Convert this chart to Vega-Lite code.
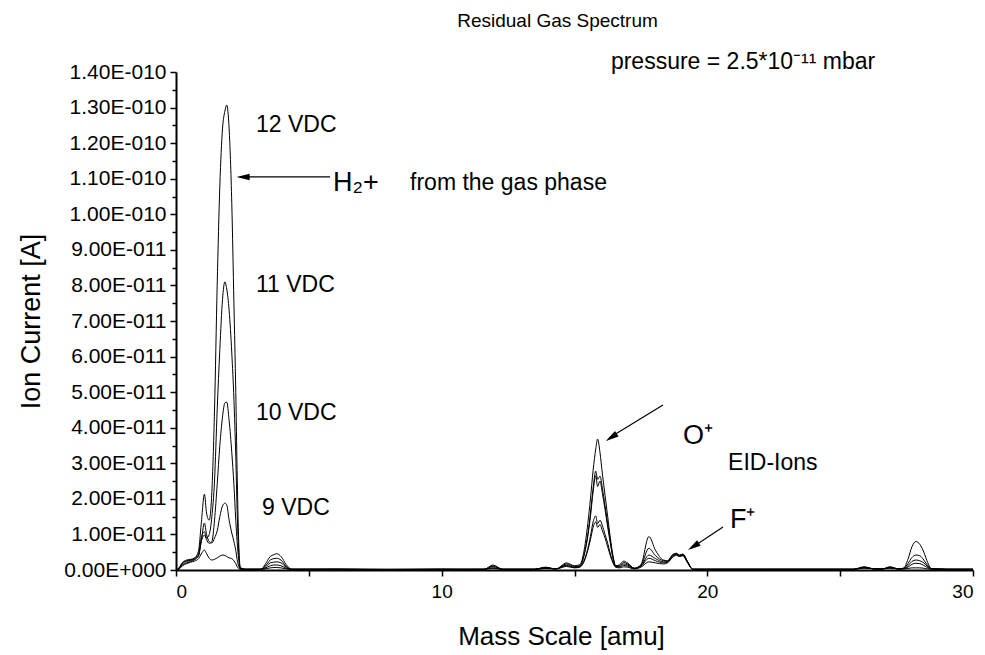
{
  "$schema": "https://vega.github.io/schema/vega-lite/v6.json",
  "autosize": {"type": "none"},
  "padding": {"left": 176, "top": 72, "right": 12, "bottom": 85},
  "width": 797,
  "height": 498,
  "background": "white",
  "config": {
    "font": "Liberation Sans",
    "view": {"stroke": null},
    "axis": {"grid": false, "domainColor": "black", "domainWidth": 2, "tickColor": "black", "tickWidth": 1.5, "labelColor": "black", "titleColor": "black", "labelFont": "Liberation Sans", "titleFont": "Liberation Sans", "titleFontWeight": "normal", "labelOverlap": false}
  },
  "title": {"text": "Residual Gas Spectrum", "fontSize": 19, "fontWeight": "normal", "font": "Liberation Sans", "color": "black", "anchor": "middle", "dx": -17, "offset": 20},
  "encoding": {
    "x": {"field": "m", "type": "quantitative", "scale": {"domain": [0, 30], "nice": false, "zero": false},
      "axis": {"title": "Mass Scale [amu]", "titleFontSize": 26, "titlePadding": 22, "titleX": 385, "labelFontSize": 19, "labelPadding": 6, "tickSize": 6,
        "values": [0, 5, 10, 15, 20, 25, 30], "labelExpr": "datum.value % 10 == 0 ? datum.label : ''", "labelOverlap": false}},
    "y": {"field": "c", "type": "quantitative", "scale": {"domain": [0, 140], "nice": false},
      "axis": {"title": "Ion Current [A]", "titleFontSize": 27, "titlePadding": 18, "labelFontSize": 21, "labelPadding": 4,
        "tickSize": {"condition": {"test": "datum.value % 10 != 0", "value": 4}, "value": 6},
        "values": [0,5,10,15,20,25,30,35,40,45,50,55,60,65,70,75,80,85,90,95,100,105,110,115,120,125,130,135,140],
        "labelOverlap": false,
        "labelExpr": "datum.value % 10 != 0 ? '' : (datum.value == 0 ? '0.00E+000' : (datum.value >= 100 ? format(datum.value / 100, '.2f') + 'E-010' : format(datum.value / 10, '.2f') + 'E-011'))"}}
  },
  "layer": [
    {
      "data": {"values": [
        {"m":0,"v12":0,"v11":0,"v10":0,"v9":0,"v8":0},
        {"m":0.1,"v12":0.5,"v11":0.4,"v10":0.3,"v9":0.3,"v8":0.2},
        {"m":0.25,"v12":2.2,"v11":2.0,"v10":1.8,"v9":1.5,"v8":1.2},
        {"m":0.4,"v12":2.8,"v11":2.6,"v10":2.4,"v9":2.0,"v8":1.8},
        {"m":0.55,"v12":3.0,"v11":2.8,"v10":2.7,"v9":2.4,"v8":2.2},
        {"m":0.7,"v12":3.4,"v11":3.3,"v10":3.0,"v9":2.9,"v8":2.5},
        {"m":0.85,"v12":5.5,"v11":4.5,"v10":4.2,"v9":4.0,"v8":3.2},
        {"m":0.95,"v12":13,"v11":9,"v10":8,"v9":8,"v8":4.5},
        {"m":1.07,"v12":21.3,"v11":10.8,"v10":9.8,"v9":13.2,"v8":5.6},
        {"m":1.15,"v12":16,"v11":9,"v10":8.5,"v9":10,"v8":4.6},
        {"m":1.25,"v12":14,"v11":10,"v10":7.5,"v9":8,"v8":3.3},
        {"m":1.35,"v12":22,"v11":15,"v10":8,"v9":7.6,"v8":2.8},
        {"m":1.45,"v12":45,"v11":25,"v10":14,"v9":9,"v8":3.0},
        {"m":1.55,"v12":80,"v11":45,"v10":24,"v9":11,"v8":3.4},
        {"m":1.65,"v12":108,"v11":62,"v10":35,"v9":15,"v8":3.9},
        {"m":1.75,"v12":124,"v11":76,"v10":43,"v9":18,"v8":4.2},
        {"m":1.84,"v12":129,"v11":81,"v10":47,"v9":18.8,"v8":4.1},
        {"m":1.91,"v12":130.7,"v11":79,"v10":47.2,"v9":18.3,"v8":3.8},
        {"m":2.0,"v12":124,"v11":73,"v10":42,"v9":14,"v8":3.4},
        {"m":2.1,"v12":103,"v11":61,"v10":33,"v9":10.4,"v8":3.2},
        {"m":2.18,"v12":75,"v11":48,"v10":24,"v9":8,"v8":2.6},
        {"m":2.25,"v12":50,"v11":32,"v10":14,"v9":5.5,"v8":1.8},
        {"m":2.3,"v12":28,"v11":17,"v10":8,"v9":3,"v8":1.0},
        {"m":2.36,"v12":8,"v11":5,"v10":3,"v9":1,"v8":0.4},
        {"m":2.42,"v12":0.8,"v11":0.5,"v10":0.4,"v9":0.3,"v8":0.2},
        {"m":2.6,"v12":0.2,"v11":0.2,"v10":0.2,"v9":0.2,"v8":0.2},
        {"m":3.2,"v12":0.2,"v11":0.2,"v10":0.2,"v9":0.2,"v8":0.2},
        {"m":3.35,"v12":1.5,"v11":1.0,"v10":0.7,"v9":0.5,"v8":0.3},
        {"m":3.55,"v12":3.8,"v11":2.8,"v10":2.0,"v9":1.2,"v8":0.6},
        {"m":3.68,"v12":4.3,"v11":3.2,"v10":2.2,"v9":1.4,"v8":0.7},
        {"m":3.79,"v12":4.6,"v11":3.3,"v10":2.3,"v9":1.4,"v8":0.7},
        {"m":3.95,"v12":3.8,"v11":2.8,"v10":2.0,"v9":1.2,"v8":0.6},
        {"m":4.15,"v12":1.5,"v11":1.0,"v10":0.8,"v9":0.5,"v8":0.3},
        {"m":4.35,"v12":0.2,"v11":0.2,"v10":0.2,"v9":0.2,"v8":0.2},
        {"m":6,"v12":0.3,"v11":0.2,"v10":0.2,"v9":0.2,"v8":0.1},
        {"m":8,"v12":0.2,"v11":0.2,"v10":0.1,"v9":0.1,"v8":0.1},
        {"m":10,"v12":0.3,"v11":0.2,"v10":0.2,"v9":0.1,"v8":0.1},
        {"m":11.6,"v12":0.2,"v11":0.2,"v10":0.2,"v9":0.2,"v8":0.2},
        {"m":11.93,"v12":1.4,"v11":1.1,"v10":0.9,"v9":0.6,"v8":0.4},
        {"m":12.3,"v12":0.2,"v11":0.2,"v10":0.2,"v9":0.2,"v8":0.2},
        {"m":13.5,"v12":0.2,"v11":0.2,"v10":0.2,"v9":0.2,"v8":0.2},
        {"m":13.9,"v12":0.8,"v11":0.7,"v10":0.6,"v9":0.5,"v8":0.4},
        {"m":14.3,"v12":0.3,"v11":0.3,"v10":0.3,"v9":0.3,"v8":0.3},
        {"m":14.7,"v12":2.0,"v11":1.7,"v10":1.4,"v9":1.2,"v8":1.0},
        {"m":15.0,"v12":1.2,"v11":1.0,"v10":0.8,"v9":0.7,"v8":0.6},
        {"m":15.2,"v12":1.5,"v11":1.2,"v10":1.0,"v9":0.9,"v8":0.8},
        {"m":15.35,"v12":5,"v11":4,"v10":3.8,"v9":2.5,"v8":2.2},
        {"m":15.5,"v12":13,"v11":10,"v10":9.5,"v9":6,"v8":5.5},
        {"m":15.6,"v12":20,"v11":16,"v10":15,"v9":9.5,"v8":8.5},
        {"m":15.7,"v12":28,"v11":23,"v10":22,"v9":13.5,"v8":12},
        {"m":15.8,"v12":34,"v11":27.8,"v10":26.5,"v9":15.2,"v8":13.5},
        {"m":15.87,"v12":36.8,"v11":25.5,"v10":23.5,"v9":13,"v8":12},
        {"m":15.96,"v12":33,"v11":26.4,"v10":25,"v9":14,"v8":12.8},
        {"m":16.05,"v12":27,"v11":23,"v10":21.5,"v9":12.5,"v8":11},
        {"m":16.15,"v12":21,"v11":18,"v10":17,"v9":10,"v8":9},
        {"m":16.25,"v12":15,"v11":13,"v10":12,"v9":7.5,"v8":6.5},
        {"m":16.35,"v12":9,"v11":8,"v10":7.5,"v9":4.5,"v8":4},
        {"m":16.45,"v12":4,"v11":3.5,"v10":3.2,"v9":2.2,"v8":2},
        {"m":16.55,"v12":1.2,"v11":1.1,"v10":1.0,"v9":0.9,"v8":0.8},
        {"m":16.7,"v12":1.5,"v11":1.2,"v10":1.0,"v9":0.8,"v8":0.6},
        {"m":16.85,"v12":2.5,"v11":2.1,"v10":1.7,"v9":1.3,"v8":0.9},
        {"m":17.0,"v12":2.0,"v11":1.7,"v10":1.4,"v9":1.1,"v8":0.8},
        {"m":17.25,"v12":0.5,"v11":0.5,"v10":0.4,"v9":0.4,"v8":0.3},
        {"m":17.5,"v12":1.5,"v11":1.3,"v10":1.1,"v9":1.0,"v8":0.8},
        {"m":17.8,"v12":9.4,"v11":6.1,"v10":4.2,"v9":3.3,"v8":2.3},
        {"m":18.05,"v12":5.5,"v11":4.0,"v10":3.2,"v9":2.6,"v8":2.0},
        {"m":18.35,"v12":2.8,"v11":2.6,"v10":2.3,"v9":2.0,"v8":1.7},
        {"m":18.5,"v12":2.6,"v11":2.5,"v10":2.3,"v9":2.2,"v8":2.0},
        {"m":18.7,"v12":4.4,"v11":4.2,"v10":4.0,"v9":3.8,"v8":3.6},
        {"m":18.84,"v12":4.7,"v11":4.6,"v10":4.4,"v9":4.3,"v8":4.1},
        {"m":18.95,"v12":4.2,"v11":4.1,"v10":4.0,"v9":3.9,"v8":3.8},
        {"m":19.08,"v12":4.5,"v11":4.4,"v10":4.3,"v9":4.1,"v8":4.0},
        {"m":19.25,"v12":2.5,"v11":2.4,"v10":2.3,"v9":2.2,"v8":2.1},
        {"m":19.45,"v12":0.2,"v11":0.2,"v10":0.2,"v9":0.2,"v8":0.2},
        {"m":22,"v12":0.2,"v11":0.2,"v10":0.2,"v9":0.2,"v8":0.2},
        {"m":25.5,"v12":0.2,"v11":0.2,"v10":0.2,"v9":0.2,"v8":0.2},
        {"m":25.9,"v12":0.9,"v11":0.8,"v10":0.7,"v9":0.6,"v8":0.5},
        {"m":26.3,"v12":0.3,"v11":0.3,"v10":0.3,"v9":0.3,"v8":0.3},
        {"m":26.6,"v12":0.3,"v11":0.3,"v10":0.3,"v9":0.3,"v8":0.3},
        {"m":26.87,"v12":0.9,"v11":0.8,"v10":0.7,"v9":0.6,"v8":0.5},
        {"m":27.2,"v12":0.3,"v11":0.3,"v10":0.3,"v9":0.3,"v8":0.3},
        {"m":27.4,"v12":0.6,"v11":0.5,"v10":0.4,"v9":0.4,"v8":0.3},
        {"m":27.55,"v12":3.0,"v11":1.8,"v10":1.2,"v9":0.8,"v8":0.4},
        {"m":27.7,"v12":6.5,"v11":3.5,"v10":2.4,"v9":1.6,"v8":0.6},
        {"m":27.85,"v12":8.0,"v11":4.2,"v10":2.8,"v9":1.9,"v8":0.6},
        {"m":28.0,"v12":7.2,"v11":4.0,"v10":2.6,"v9":1.8,"v8":0.6},
        {"m":28.15,"v12":5.0,"v11":2.8,"v10":2.0,"v9":1.3,"v8":0.5},
        {"m":28.3,"v12":2.0,"v11":1.2,"v10":0.9,"v9":0.6,"v8":0.3},
        {"m":28.44,"v12":0.3,"v11":0.3,"v10":0.3,"v9":0.3,"v8":0.3},
        {"m":29.0,"v12":0.2,"v11":0.2,"v10":0.2,"v9":0.2,"v8":0.2},
        {"m":30.0,"v12":0.2,"v11":0.2,"v10":0.2,"v9":0.2,"v8":0.2}
      ]},
      "transform": [{"fold": ["v12", "v11", "v10", "v9", "v8"], "as": ["series", "c"]}],
      "mark": {"type": "line", "color": "black", "strokeWidth": 1, "interpolate": "monotone"},
      "encoding": {"detail": {"field": "series"}}
    },
    {
      "data": {"values": [
        {"m": 5.80, "c": 110.5, "m2": 2.4, "c2": 110.5},
        {"m": 18.33, "c": 46.4, "m2": 16.3, "c2": 37.1},
        {"m": 20.59, "c": 12.1, "m2": 19.4, "c2": 6.2}
      ]},
      "mark": {"type": "rule", "color": "black", "strokeWidth": 1.2},
      "encoding": {"x2": {"field": "m2"}, "y2": {"field": "c2"}}
    },
    {
      "data": {"values": [{"m": 2.28, "c": 110.5}]},
      "mark": {"type": "point", "shape": "M0,0L0.5,2L-0.5,2Z", "filled": true, "color": "black", "opacity": 1, "size": 170, "angle": 270}
    },
    {
      "data": {"values": [{"m": 16.18, "c": 36.3}, {"m": 19.27, "c": 5.6}]},
      "mark": {"type": "point", "shape": "M0,0L0.5,2L-0.5,2Z", "filled": true, "color": "black", "opacity": 1, "size": 170, "angle": 237}
    },
    {
      "data": {"values": [
        {"m": 3.01, "c": 125.1, "label": "12 VDC"},
        {"m": 3.01, "c": 80.1, "label": "11 VDC"},
        {"m": 3.01, "c": 44.1, "label": "10 VDC"},
        {"m": 3.24, "c": 17.4, "label": "9 VDC"},
        {"m": 8.81, "c": 108.8, "label": "from the gas phase"},
        {"m": 20.78, "c": 30.1, "label": "EID-Ions"}
      ]},
      "mark": {"type": "text", "align": "left", "baseline": "middle", "fontSize": 23, "color": "black"},
      "encoding": {"text": {"field": "label"}}
    },
    {
      "data": {"values": [
        {"m": 5.91, "c": 108.8, "label": "H₂+"},
        {"m": 19.08, "c": 37.7, "label": "O⁺"},
        {"m": 20.85, "c": 14.1, "label": "F⁺"}
      ]},
      "mark": {"type": "text", "align": "left", "baseline": "middle", "fontSize": 27, "color": "black"},
      "encoding": {"text": {"field": "label"}}
    },
    {
      "data": {"values": [{"m": 16.37, "c": 142.8, "label": "pressure = 2.5*10⁻¹¹ mbar"}]},
      "mark": {"type": "text", "align": "left", "baseline": "middle", "fontSize": 23, "color": "black", "clip": false},
      "encoding": {"text": {"field": "label"}}
    }
  ]
}
